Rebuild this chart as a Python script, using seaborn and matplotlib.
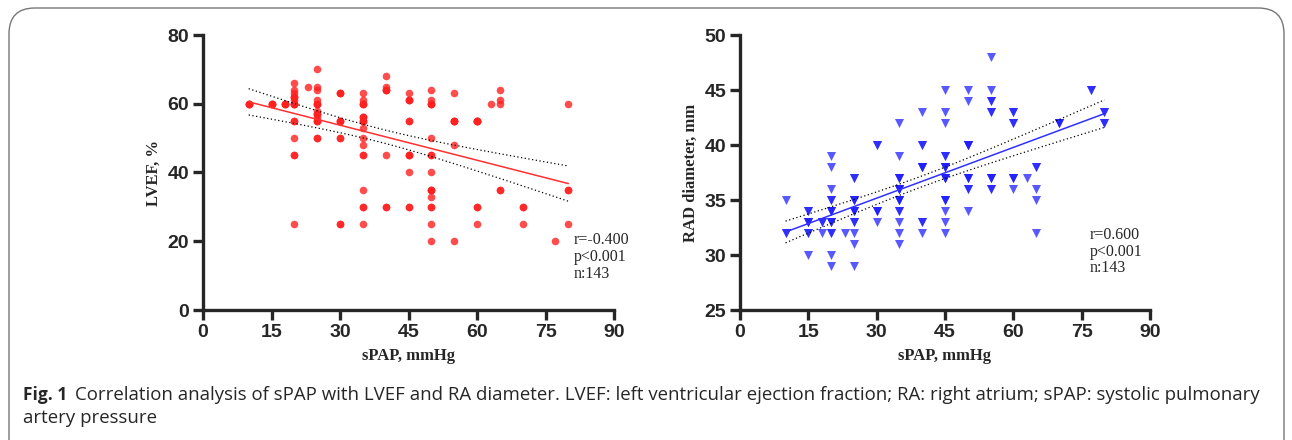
import matplotlib.pyplot as plt
import numpy as np
import pandas as pd
import seaborn as sns
from matplotlib.patches import FancyBboxPatch

# left panel: sPAP vs LVEF (grouped by sPAP column)
spap_l = ([10] + [15] + [18]
          + [20] * 11 + [23] + [25] * 11 + [30] * 6 + [35] * 14
          + [40] * 6 + [45] * 8 + [50] * 13 + [55] * 5 + [60] * 5
          + [63] + [65] * 4 + [70] * 2 + [77] + [80] * 3)
lvef = ([60] + [60] + [60]
        + [66, 64, 63, 62, 61, 60, 55, 50, 45, 45, 25]
        + [65]
        + [70, 65, 64, 61, 60, 58, 57, 56, 55, 50, 50]
        + [63, 55, 50, 50, 25, 25]
        + [63, 61, 60, 56, 55, 53, 50, 48, 45, 45, 35, 30, 30, 25]
        + [68, 65, 64, 45, 30, 30]
        + [63, 61, 55, 45, 45, 40, 30, 30]
        + [64, 61, 60, 50, 45, 40, 35, 35, 33, 30, 30, 25, 20]
        + [63, 55, 55, 48, 20]
        + [55, 55, 30, 30, 25]
        + [60]
        + [64, 61, 60, 35]
        + [30, 25]
        + [20]
        + [60, 35, 25])
# points hidden under other dots (n = 143 in the figure)
spap_l_hidden = ([10] * 3 + [15] * 3 + [18] * 3 + [20] * 6 + [25] * 6 + [30] * 4
                 + [35] * 6 + [40] * 2 + [45] * 4 + [50] * 4 + [55] * 2 + [60] * 3
                 + [65] + [70] + [80])
lvef_hidden = ([60] * 3 + [60] * 3 + [60] * 3
               + [60, 60, 60, 62, 62, 55]
               + [60, 60, 55, 55, 57, 57]
               + [55, 55, 63, 63]
               + [55, 55, 56, 56, 60, 60]
               + [64, 64]
               + [61, 61, 45, 55]
               + [60, 60, 45, 35]
               + [55, 55]
               + [55, 55, 55]
               + [35] + [30] + [35])

# right panel: sPAP vs RA diameter
spap_r = ([10] * 2 + [15] * 4 + [18] * 2 + [20] * 9 + [23] + [25] * 7
          + [30] * 3 + [35] * 9 + [40] * 5 + [45] * 10 + [50] * 6
          + [55] * 6 + [60] * 4 + [63] + [65] * 4 + [70] + [77] + [80] * 2)
rad = ([35, 32]
       + [34, 33, 32, 30]
       + [33, 32]
       + [39, 38, 36, 35, 34, 33, 32, 30, 29]
       + [32]
       + [37, 35, 34, 33, 32, 31, 29]
       + [40, 34, 33]
       + [42, 39, 37, 36, 35, 34, 33, 32, 31]
       + [43, 40, 38, 33, 32]
       + [45, 43, 42, 39, 38, 37, 35, 34, 33, 32]
       + [45, 44, 40, 37, 36, 34]
       + [48, 45, 44, 43, 37, 36]
       + [43, 42, 37, 36]
       + [37]
       + [38, 36, 35, 32]
       + [42]
       + [45]
       + [43, 42])
spap_r_hidden = ([10] + [15] * 4 + [18] + [20] * 6 + [25] * 6 + [30] * 3
                 + [35] * 10 + [40] * 5 + [45] * 9 + [50] * 6 + [55] * 5
                 + [60] * 4 + [65] + [70] * 2 + [77] + [80] * 2)
rad_hidden = ([32]
              + [33, 33, 32, 34]
              + [33]
              + [34, 34, 33, 33, 35, 32]
              + [35, 35, 34, 34, 33, 37]
              + [34, 34, 40]
              + [36, 36, 36, 36, 35, 35, 35, 37, 37, 34]
              + [38, 38, 38, 33, 40]
              + [37, 37, 37, 38, 38, 38, 35, 35, 39]
              + [37, 37, 40, 40, 40, 36]
              + [37, 37, 43, 44, 36]
              + [37, 37, 42, 43]
              + [38]
              + [42, 42]
              + [45]
              + [42, 43])

stats_l = "r=-0.400\np<0.001\nn:143"
stats_r = "r=0.600\np<0.001\nn:143"
caption_bold = "Fig. 1"
caption = ("Correlation analysis of sPAP with LVEF and RA diameter. LVEF: left ventricular "
           "ejection fraction; RA: right atrium; sPAP: systolic pulmonary")
caption2 = "artery pressure"

df_l = pd.DataFrame({"sPAP": spap_l + spap_l_hidden, "LVEF": lvef + lvef_hidden})
df_r = pd.DataFrame({"sPAP": spap_r + spap_r_hidden, "RAD": rad + rad_hidden})

sns.set_style("ticks")
plt.rcParams["font.family"] = ["Liberation Sans", "DejaVu Sans"]

W, H = 1292, 440
fig = plt.figure(figsize=(W / 100, H / 100), dpi=100)


def ci_lines(x, y, ax):
    x = np.asarray(x, float)
    y = np.asarray(y, float)
    b, a = np.polyfit(x, y, 1)
    n = len(x)
    resid = y - (a + b * x)
    s = np.sqrt((resid ** 2).sum() / (n - 2))
    sxx = ((x - x.mean()) ** 2).sum()
    xs = np.linspace(x.min(), x.max(), 50)
    se = s * np.sqrt(1 / n + (xs - x.mean()) ** 2 / sxx)
    fit = a + b * xs
    for sign in (-1, 1):
        ax.plot(xs, fit + sign * 1.977 * se, color="black", lw=0.9, ls=(0, (1, 2)))


def style(ax, ylim, yticks, ylabel):
    ax.set_xlim(0, 90)
    ax.set_xticks(range(0, 91, 15))
    ax.set_ylim(*ylim)
    ax.set_yticks(yticks)
    sns.despine(ax=ax)
    for sp in ("left", "bottom"):
        ax.spines[sp].set_linewidth(2.4)
    ax.tick_params(direction="out", length=7, width=2.4, labelsize=14, pad=3)
    for lab in ax.get_xticklabels() + ax.get_yticklabels():
        lab.set_fontweight("bold")
    ax.set_xlabel("sPAP, mmHg", fontsize=12, fontweight="bold",
                  family="Liberation Serif", labelpad=5)
    ax.set_ylabel(ylabel, fontsize=12, fontweight="bold",
                  family="Liberation Serif", labelpad=4)


ax1 = fig.add_axes([203 / W, 1 - 310 / H, 411 / W, 275 / H])
sns.regplot(data=df_l, x="sPAP", y="LVEF", ax=ax1, ci=None, marker="o",
            scatter_kws=dict(s=30, color="#ff2020", alpha=0.8, linewidths=0),
            line_kws=dict(color="#ff3030", lw=1.1))
ci_lines(df_l["sPAP"], df_l["LVEF"], ax1)
style(ax1, (0, 80), range(0, 81, 20), "LVEF, %")
ax1.text(0.902, 0.282, stats_l, transform=ax1.transAxes, va="top", ha="left",
         family="Liberation Serif", fontsize=11.5, linespacing=1.05)

ax2 = fig.add_axes([740 / W, 1 - 310 / H, 410 / W, 275 / H])
sns.regplot(data=df_r, x="sPAP", y="RAD", ax=ax2, ci=None, marker="v",
            scatter_kws=dict(s=42, color="#2020ff", alpha=0.75, linewidths=0),
            line_kws=dict(color="#3030ff", lw=1.1))
ci_lines(df_r["sPAP"], df_r["RAD"], ax2)
style(ax2, (25, 50), range(25, 51, 5), "RAD diameter, mm")
ax2.text(0.852, 0.302, stats_r, transform=ax2.transAxes, va="top", ha="left",
         family="Liberation Serif", fontsize=11.5, linespacing=1.05)

# caption
fig.text(23 / W, 1 - 400 / H, caption_bold, family="Open Sans", fontweight="bold",
         fontsize=12.5, va="baseline")
fig.text(75 / W, 1 - 400 / H, caption, family="Open Sans", fontsize=13.4, va="baseline")
fig.text(23 / W, 1 - 423 / H, caption2, family="Open Sans", fontsize=13.4, va="baseline")

# rounded frame round the figure
box = FancyBboxPatch((9 / W, -0.1), (1284 - 9) / W, 1 - 8 / H + 0.1,
                     boxstyle="round,pad=0,rounding_size=0.02",
                     transform=fig.transFigure, fill=False, ec="#777777", lw=1.0,
                     mutation_aspect=W / H)
fig.patches.append(box)

fig.savefig("out.png", dpi=100)
